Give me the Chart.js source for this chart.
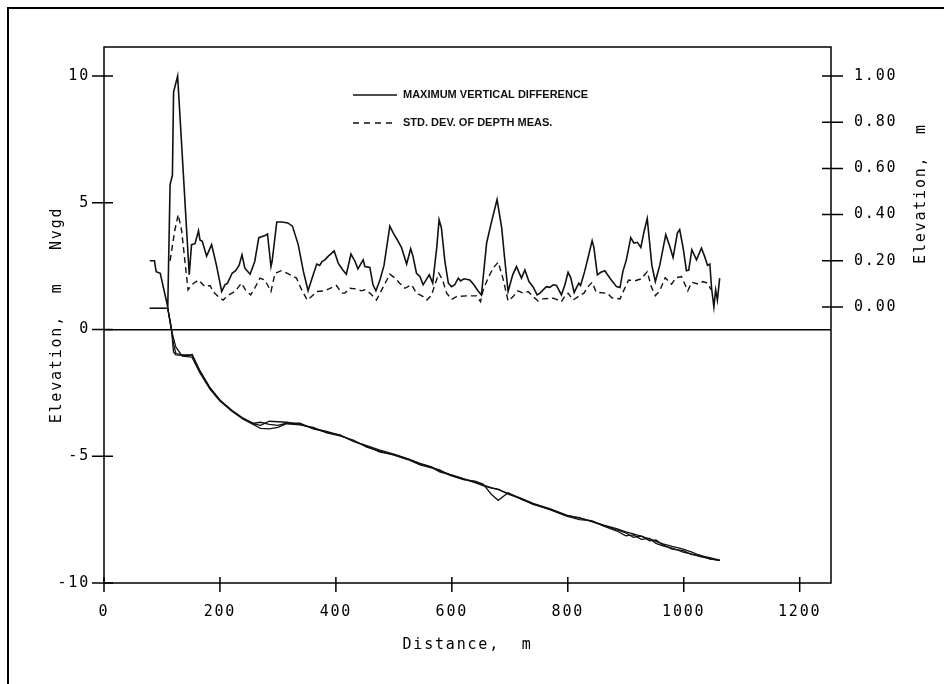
<!DOCTYPE html>
<html>
<head>
<meta charset="utf-8">
<script src="https://cdn.jsdelivr.net/npm/chart.js@4.4.1/dist/chart.umd.min.js"></script>
<style>
  html, body { margin: 0; padding: 0; background: #fff; }
  #wrap { width: 951px; height: 684px; position: relative; }
</style>
</head>
<body>
<div id="wrap"><canvas id="chart"></canvas></div>
<script>
/* upper curves, read on the right axis (m) */
const maxDiffDist = [79, 87, 90, 97, 110, 114, 118, 120, 127, 147, 151, 157, 163, 165.5, 169.5, 177, 185.6, 194, 203, 208.6,
  213, 221, 227, 233, 238, 243, 252, 260, 267, 279, 282, 288, 290, 298, 307, 317, 325, 335, 344, 352,
  359, 367, 372, 376, 381, 387, 397, 404, 412, 418, 426, 433, 438, 447, 450, 458.6, 464, 469, 476, 483,
  493, 499, 506, 513, 522, 529, 533, 539, 545, 550.5, 561, 567, 574, 578, 582, 588, 594, 599.5, 605, 611,
  615, 621, 631, 638, 645, 651, 660, 668, 678, 686, 691, 697, 705, 711.5, 720, 726, 733, 740, 747, 752,
  763, 769, 775, 780.5, 789, 795, 800.5, 805, 811, 815, 819, 822, 829, 835, 842, 845, 851, 857, 864, 868,
  875, 884, 890, 895, 901, 908.6, 914, 920, 926, 931.6, 937, 945, 951, 958.6, 969, 976, 981.6, 989, 993, 999,
  1004.6, 1008.6, 1014, 1022, 1030.5, 1036, 1041, 1045, 1048, 1052, 1055, 1058, 1062];
const maxDiffVals = [0.20, 0.20, 0.153, 0.146, 0.0, 0.53, 0.57, 0.93, 1.00, 0.14, 0.27, 0.274, 0.33, 0.29, 0.284, 0.22, 0.27, 0.18, 0.067, 0.096,
  0.103, 0.146, 0.157, 0.18, 0.226, 0.168, 0.142, 0.197, 0.30, 0.31, 0.316, 0.175, 0.197, 0.368, 0.368, 0.364, 0.35, 0.27, 0.153, 0.07,
  0.125, 0.186, 0.18, 0.197, 0.204, 0.22, 0.243, 0.19, 0.16, 0.142, 0.229, 0.197, 0.165, 0.204, 0.175, 0.171, 0.096, 0.07, 0.117, 0.18,
  0.35, 0.32, 0.29, 0.258, 0.186, 0.252, 0.219, 0.146, 0.132, 0.096, 0.139, 0.103, 0.258, 0.378, 0.342, 0.197, 0.103, 0.088, 0.096, 0.125,
  0.113, 0.122, 0.117, 0.096, 0.07, 0.052, 0.277, 0.364, 0.465, 0.342, 0.212, 0.067, 0.139, 0.175, 0.125, 0.16, 0.11, 0.088, 0.052, 0.06,
  0.088, 0.085, 0.096, 0.093, 0.052, 0.096, 0.15, 0.127, 0.062, 0.084, 0.103, 0.093, 0.153, 0.214, 0.287, 0.258, 0.139, 0.15, 0.157, 0.142,
  0.117, 0.088, 0.084, 0.153, 0.204, 0.30, 0.277, 0.28, 0.258, 0.327, 0.383, 0.18, 0.11, 0.18, 0.313, 0.262, 0.214, 0.32, 0.335, 0.255,
  0.157, 0.16, 0.248, 0.204, 0.255, 0.219, 0.18, 0.186, 0.081, 0.0, 0.074, 0.03, 0.125];

const stdDevDist = [114, 122, 128, 134, 139.6, 145, 151, 163, 174, 183, 188, 200, 205.7, 213, 226, 237, 244, 253, 260, 269,
  277.6, 288, 295, 306, 319, 332, 341, 350.5, 358, 367, 381, 401, 410, 415.5, 424, 435.6, 444, 450, 458.6, 470,
  479, 493, 502, 510, 519, 530.5, 539, 550.5, 557, 565, 570.7, 577.6, 584, 591, 599.5, 608, 625, 642.6, 649.5, 654,
  662.6, 671, 680, 688, 697, 705.7, 714, 723, 731.6, 740, 749, 757, 775, 783, 789, 796, 800.5, 809, 818, 828,
  835, 842, 849, 864, 868, 876, 890, 897, 905, 915.5, 927, 937, 944, 951, 958.6, 968, 979, 987, 996, 1007,
  1014, 1025, 1033, 1041, 1047];
const stdDevVals = [0.20, 0.33, 0.40, 0.33, 0.197, 0.074, 0.096, 0.117, 0.088, 0.093, 0.067, 0.038, 0.03, 0.049, 0.067, 0.103, 0.074, 0.052, 0.081, 0.125,
  0.117, 0.067, 0.146, 0.157, 0.142, 0.125, 0.074, 0.03, 0.045, 0.067, 0.07, 0.093, 0.06, 0.06, 0.081, 0.078, 0.07, 0.074, 0.06, 0.03,
  0.074, 0.142, 0.125, 0.103, 0.081, 0.096, 0.06, 0.045, 0.03, 0.052, 0.096, 0.146, 0.117, 0.06, 0.033, 0.045, 0.048, 0.048, 0.023, 0.074,
  0.125, 0.168, 0.194, 0.125, 0.026, 0.045, 0.07, 0.06, 0.067, 0.045, 0.026, 0.035, 0.038, 0.03, 0.023, 0.052, 0.06, 0.03, 0.045, 0.06,
  0.088, 0.107, 0.064, 0.06, 0.06, 0.04, 0.035, 0.074, 0.117, 0.113, 0.122, 0.153, 0.088, 0.049, 0.07, 0.127, 0.099, 0.127, 0.132, 0.07,
  0.107, 0.099, 0.11, 0.103, 0.075];

/* bottom profiles, read on the left axis (m NGVD) */
const profileDist = [79, 110, 116, 120, 124, 135, 148, 152, 165, 183, 200, 220, 240, 258, 270, 285, 300, 315, 338, 361,
  384, 407, 430, 453, 476, 500, 525, 545, 565, 579, 597, 620, 640, 654, 668, 680, 697, 720, 740, 770,
  798, 820, 841, 862, 884, 900, 913, 927, 941, 952, 964, 980, 999, 1014, 1028, 1045, 1062];
const profileA = [0.83, 0.83, 0.1, -0.9, -1.0, -1.02, -1.02, -0.98, -1.6, -2.3, -2.78, -3.18, -3.5, -3.72, -3.78, -3.62, -3.64, -3.66, -3.74, -3.9,
  -4.02, -4.18, -4.4, -4.58, -4.76, -4.92, -5.1, -5.28, -5.42, -5.58, -5.72, -5.88, -6.02, -6.14, -6.24, -6.32, -6.46, -6.66, -6.86, -7.08,
  -7.32, -7.44, -7.56, -7.72, -7.86, -7.98, -8.06, -8.16, -8.26, -8.36, -8.46, -8.56, -8.66, -8.78, -8.92, -9.0, -9.1];
const profileB = [0.83, 0.83, 0.0, -0.35, -0.7, -1.05, -1.08, -1.1, -1.7, -2.36, -2.82, -3.22, -3.54, -3.76, -3.9, -3.92, -3.86, -3.72, -3.76, -3.86,
  -4.08, -4.2, -4.36, -4.64, -4.8, -4.96, -5.14, -5.34, -5.46, -5.54, -5.76, -5.92, -5.98, -6.1, -6.5, -6.74, -6.44, -6.7, -6.88, -7.12,
  -7.36, -7.5, -7.54, -7.76, -7.94, -8.14, -8.1, -8.28, -8.24, -8.44, -8.54, -8.62, -8.78, -8.86, -8.96, -9.04, -9.12];
const profileC = [0.83, 0.83, 0.05, -0.6, -0.95, -1.0, -1.0, -1.02, -1.66, -2.32, -2.8, -3.2, -3.52, -3.7, -3.66, -3.74, -3.78, -3.7, -3.7, -3.92,
  -4.05, -4.16, -4.42, -4.6, -4.84, -4.94, -5.12, -5.3, -5.44, -5.62, -5.74, -5.9, -6.04, -6.16, -6.26, -6.3, -6.5, -6.68, -6.9, -7.1,
  -7.34, -7.42, -7.58, -7.74, -7.9, -8.02, -8.2, -8.14, -8.34, -8.3, -8.5, -8.66, -8.72, -8.88, -8.9, -9.06, -9.1];

const distTicks = [0, 200, 400, 600, 800, 1000, 1200];
const elevTicks = [-10, -5, 0, 5, 10];
const diffTicks = [0, 0.2, 0.4, 0.6, 0.8, 1.0];

const MONO = '"DejaVu Sans Mono", monospace';
const INK = '#111';

function pairs(xs, ys) {
  return xs.map((x, i) => ({ x: x, y: ys[i] }));
}

function profileSet(vals) {
  return { data: pairs(profileDist, vals), yAxisID: 'y', borderColor: INK, borderWidth: 1.3 };
}

/* frame, crossing tick marks, legend and right axis title */
const plotterDecor = {
  id: 'plotterDecor',
  beforeDraw(chart) {
    chart.ctx.letterSpacing = '1.8px';
  },
  afterDraw(chart) {
    const { ctx, chartArea: a, scales } = chart;
    ctx.save();
    ctx.letterSpacing = '0px';
    ctx.strokeStyle = '#000';
    ctx.lineWidth = 1.5;
    ctx.strokeRect(a.left, a.top, a.right - a.left, a.bottom - a.top);

    ctx.beginPath();
    elevTicks.forEach(v => {
      const y = scales.y.getPixelForValue(v);
      ctx.moveTo(a.left - 12, y); ctx.lineTo(a.left + 9, y);
    });
    diffTicks.forEach(v => {
      const y = scales.y2.getPixelForValue(v);
      ctx.moveTo(a.right - 9, y); ctx.lineTo(a.right + 12, y);
    });
    distTicks.forEach(v => {
      const x = scales.x.getPixelForValue(v);
      ctx.moveTo(x, a.bottom - 6); ctx.lineTo(x, a.bottom + 9);
    });
    ctx.stroke();

    // page border, left and top
    ctx.lineWidth = 2;
    ctx.beginPath();
    ctx.moveTo(8, chart.height); ctx.lineTo(8, 8); ctx.lineTo(944, 8);
    ctx.stroke();

    // legend
    const lx = a.left + 249, ly1 = a.top + 48, ly2 = a.top + 76;
    ctx.strokeStyle = INK;
    ctx.lineWidth = 1.5;
    ctx.beginPath(); ctx.moveTo(lx, ly1); ctx.lineTo(lx + 44, ly1); ctx.stroke();
    ctx.setLineDash([6, 5]);
    ctx.beginPath(); ctx.moveTo(lx, ly2); ctx.lineTo(lx + 44, ly2); ctx.stroke();
    ctx.setLineDash([]);
    ctx.fillStyle = INK;
    ctx.font = 'bold 11px "Liberation Sans", Arial, sans-serif';
    ctx.textAlign = 'left';
    ctx.textBaseline = 'middle';
    ctx.fillText('MAXIMUM VERTICAL DIFFERENCE', lx + 50, ly1);
    ctx.fillText('STD. DEV. OF DEPTH MEAS.', lx + 50, ly2);

    // right axis title, centred on the 0.00 - 1.00 range
    const ty = (scales.y2.getPixelForValue(0) + scales.y2.getPixelForValue(1)) / 2 + 2;
    ctx.letterSpacing = '1.8px';
    ctx.font = '15px ' + MONO;
    ctx.fillStyle = '#000';
    ctx.translate(921, ty);
    ctx.rotate(-Math.PI / 2);
    ctx.textAlign = 'center';
    ctx.fillText('Elevation,  m', 0, 0);
    ctx.restore();
  }
};

new Chart(document.getElementById('chart'), {
  type: 'line',
  data: {
    datasets: [
      { label: 'MAXIMUM VERTICAL DIFFERENCE', data: pairs(maxDiffDist, maxDiffVals), yAxisID: 'y2',
        borderColor: INK, borderWidth: 1.6 },
      { label: 'STD. DEV. OF DEPTH MEAS.', data: pairs(stdDevDist, stdDevVals), yAxisID: 'y2',
        borderColor: INK, borderWidth: 1.4, borderDash: [6, 4] },
      profileSet(profileA),
      profileSet(profileB),
      profileSet(profileC)
    ]
  },
  options: {
    responsive: true,
    maintainAspectRatio: false,
    animation: false,
    events: [],
    parsing: false,
    elements: { point: { radius: 0 }, line: { tension: 0, fill: false } },
    layout: { padding: { top: 47, left: 0, right: 0, bottom: 0 } },
    plugins: { legend: { display: false }, tooltip: { enabled: false } },
    scales: {
      x: {
        type: 'linear', min: 0, max: 1254,
        afterBuildTicks: s => { s.ticks = distTicks.map(v => ({ value: v })); },
        afterFit: s => { s.height = 101; },
        grid: { display: false },
        border: { display: false },
        ticks: { color: '#000', padding: 12, maxRotation: 0, font: { family: MONO, size: 15 },
          callback: v => String(v) },
        title: { display: true, text: 'Distance,  m', color: '#000', padding: { top: 0, bottom: 30 },
          font: { family: MONO, size: 15 } }
      },
      y: {
        type: 'linear', position: 'left', min: -10, max: 11.14,
        afterBuildTicks: s => { s.ticks = elevTicks.map(v => ({ value: v })); },
        afterFit: s => { s.width = 104; },
        grid: {
          drawTicks: false, drawOnChartArea: true, lineWidth: 1.5,
          color: c => (c.tick && c.tick.value === 0 ? '#000' : 'rgba(0,0,0,0)')
        },
        border: { display: false },
        ticks: { color: '#000', padding: 14, font: { family: MONO, size: 15 },
          callback: v => String(v) },
        title: { display: true, text: 'Elevation,  m   Nvgd', color: '#000', padding: { top: 48, bottom: 0 },
          font: { family: MONO, size: 15 } }
      },
      y2: {
        type: 'linear', position: 'right', min: -1.195, max: 1.1255,
        afterBuildTicks: s => { s.ticks = diffTicks.map(v => ({ value: v })); },
        afterFit: s => { s.width = 120; },
        grid: { display: false },
        border: { display: false },
        ticks: { color: '#000', padding: 15, font: { family: MONO, size: 15 },
          callback: v => v.toFixed(2) }
      }
    }
  },
  plugins: [plotterDecor]
});
</script>
</body>
</html>
